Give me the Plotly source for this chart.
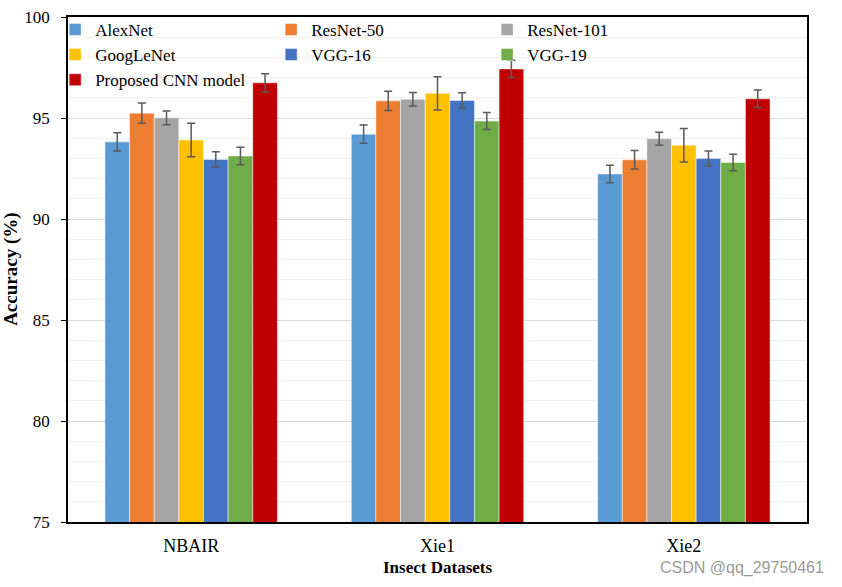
import plotly.graph_objects as go

categories = ["NBAIR", "Xie1", "Xie2"]
models = ["AlexNet", "ResNet-50", "ResNet-101", "GoogLeNet", "VGG-16", "VGG-19", "Proposed CNN model"]
colors = ["#5B9BD5", "#ED7D31", "#A5A5A5", "#FFC000", "#4472C4", "#70AD47", "#C00000"]

alexnet = [93.82, 94.20, 92.23]
resnet50 = [95.24, 95.85, 92.93]
resnet101 = [95.01, 95.93, 93.97]
googlenet = [93.91, 96.22, 93.65]
vgg16 = [92.95, 95.87, 93.00]
vgg19 = [93.12, 94.85, 92.80]
proposed = [96.74, 97.43, 95.95]

err_alexnet = [0.45, 0.45, 0.43]
err_resnet50 = [0.50, 0.48, 0.46]
err_resnet101 = [0.34, 0.33, 0.32]
err_googlenet = [0.83, 0.82, 0.83]
err_vgg16 = [0.38, 0.38, 0.37]
err_vgg19 = [0.43, 0.42, 0.41]
err_proposed = [0.45, 0.43, 0.43]

values = [alexnet, resnet50, resnet101, googlenet, vgg16, vgg19, proposed]
errors = [err_alexnet, err_resnet50, err_resnet101, err_googlenet, err_vgg16, err_vgg19, err_proposed]

font = "Liberation Serif, Times New Roman, serif"

fig = go.Figure()
for name, col, v, e in zip(models, colors, values, errors):
    fig.add_trace(go.Bar(
        name=name, x=categories, y=v, marker_color=col,
        marker_line=dict(color="rgba(255,255,255,0.6)", width=0.8),
        error_y=dict(type="data", array=e, visible=True, color="#595959", thickness=1.5, width=4),
    ))

fig.update_layout(
    barmode="group", bargap=0.3, bargroupgap=0,
    width=842, height=587,
    margin=dict(l=68, r=35, t=17, b=65, autoexpand=False),
    paper_bgcolor="white", plot_bgcolor="white",
    font=dict(family=font, size=16, color="black"),
    legend=dict(
        orientation="h", x=-0.0174, y=1.010, xanchor="left", yanchor="top",
        entrywidth=171, entrywidthmode="pixels",
        font=dict(family=font, size=17), bgcolor="rgba(0,0,0,0)",
        tracegroupgap=0,
    ),
    showlegend=True,
)
fig.update_yaxes(
    range=[75, 100], dtick=5, tick0=75, automargin=False,
    showgrid=True, gridcolor="#d9d9d9", gridwidth=1.2,
    minor=dict(dtick=1, showgrid=True, gridcolor="#f0f0f0", gridwidth=1),
    showline=True, linecolor="black", linewidth=1.5, mirror=True,
    ticks="outside", ticklen=5, tickcolor="black", ticklabelstandoff=8,
    ticklabeloverflow="allow",
    tickfont=dict(family=font, size=17),
    zeroline=False,
)
fig.update_xaxes(
    showline=True, linecolor="black", linewidth=2, mirror=True, automargin=False,
    ticks="", ticklabelstandoff=6, tickfont=dict(family=font, size=18),
)
fig.add_annotation(
    text="<b>Accuracy (%)</b>", xref="paper", yref="paper", x=-0.078, y=0.5,
    xanchor="center", yanchor="middle", textangle=-90, showarrow=False,
    font=dict(family=font, size=19, color="black"),
)
fig.add_annotation(
    text="<b>Insect Datasets</b>", xref="paper", yref="paper", x=0.5, y=-0.09,
    xanchor="center", yanchor="middle", showarrow=False,
    font=dict(family=font, size=17, color="black"),
)
fig.add_annotation(
    text="CSDN @qq_29750461", xref="paper", yref="paper", x=1.0257, y=-0.092,
    xanchor="right", yanchor="middle", showarrow=False,
    font=dict(family="Liberation Sans, Arial, sans-serif", size=16, color="#9a9a9a"),
)

fig.write_html("out.html", config={"displayModeBar": False},
               post_script="document.body.style.margin='0';")
